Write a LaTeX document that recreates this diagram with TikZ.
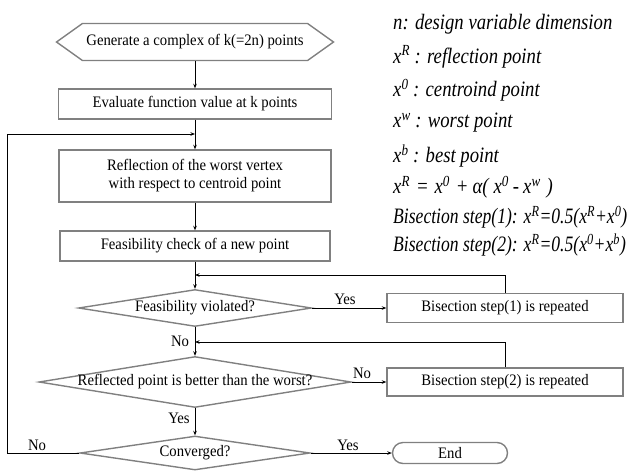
\documentclass[tikz,border=0pt]{standalone}
\usepackage{fontspec}
\setmainfont{Liberation Serif}[FakeStretch=0.92]
\newfontfamily\notefont{Liberation Serif}[FakeStretch=0.85]
\newfontfamily\tightfont{Liberation Serif}[FakeStretch=0.8]
\usetikzlibrary{shapes.geometric,shapes.misc,shapes.symbols,arrows.meta}
\newcommand{\xsup}[1]{x\textsuperscript{#1}}

\begin{document}
\begin{tikzpicture}[x=1pt,y=-1pt,
        font=\fontsize{16}{18}\selectfont,
        box/.style={draw=gray,line width=1.4pt,rectangle,inner sep=0pt,align=center},
        dec/.style={draw=gray,line width=1.4pt,diamond,inner sep=0pt},
        flow/.style={draw=black,line width=0.9pt,-{Stealth[length=4.5pt,width=3.5pt]}},
        note/.style={anchor=west,inner sep=0pt,font=\fontsize{22}{24}\notefont\itshape}]
                \useasboundingbox (0,0) rectangle (631,472);
                \node[draw=gray,line width=1.4pt,signal,signal to=west and east,signal pointer angle=71,
                      inner sep=0pt,minimum width=277pt,minimum height=37pt] (start) at (195,42) {\makebox[0pt]{Generate a complex of k(=2n) points}};
                \node[box,minimum width=273pt,minimum height=30pt] (eval) at (195,104) {Evaluate function value at k points};
                \node[box,minimum width=272pt,minimum height=52pt] (refl) at (195,176) {Reflection of the worst vertex\\with respect to centroid point};
                \node[box,minimum width=270pt,minimum height=30pt] (check) at (195,246) {Feasibility check of a new point};
                \node[dec,minimum width=233pt,minimum height=37pt] (viol) at (195,308) {\makebox[0pt]{Feasibility violated?}};
                \node[box,minimum width=236pt,minimum height=29pt] (bisA) at (505,308) {Bisection step(1) is repeated};
                \node[dec,minimum width=312pt,minimum height=51pt] (better) at (195,382) {\makebox[0pt]{Reflected point is better than the worst?}};
                \node[box,minimum width=236pt,minimum height=28pt] (bisB) at (505,382) {Bisection step(2) is repeated};
                \node[dec,minimum width=230pt,minimum height=34pt] (conv) at (195,453) {\makebox[0pt]{Converged?}};
                \node[draw=gray,line width=1.4pt,rounded rectangle,inner sep=0pt,minimum width=115pt,minimum height=21pt] (fin) at (450,453) {End};
                \node (yesA) at (345,299) {Yes};
                \node (noA) at (180,341) {No};
                \node (noB) at (362,373) {No};
                \node (yesB) at (179,418) {Yes};
                \node (yesC) at (348,445) {Yes};
                \node (noC) at (37,445) {No};
                \node[note] (nDim) at (393,24) {n: design variable dimension};
                \node[note] (xR) at (393,57) {\xsup{R} : reflection point};
                \node[note] (xO) at (393,90) {\xsup{0} : centroind point};
                \node[note] (xW) at (393,123) {\xsup{w} : worst point};
                \node[note] (xB) at (393,156) {\xsup{b} : best point};
                \node[note] (refEq) at (393,187) {\xsup{R}\hspace{6pt}=\hspace{6pt}\xsup{0}\hspace{6pt}+\hspace{4pt}α(\hspace{5pt}\xsup{0}\hspace{4pt}-\hspace{4pt}\xsup{w}\hspace{6pt})};
                \node[note,font=\fontsize{22}{24}\tightfont\itshape] (bisEqA) at (393,217) {Bisection step(1): \xsup{R}=0.5(\xsup{R}+\xsup{0})};
                \node[note,font=\fontsize{22}{24}\tightfont\itshape] (bisEqB) at (393,245) {Bisection step(2): \xsup{R}=0.5(\xsup{0}+\xsup{b})};
                \coordinate (jA) at (195,134);
                \coordinate (jB) at (195,275);
                \coordinate (jC) at (195,342);
                \coordinate (lc) at (7,453);
                \draw[flow] (start) -- (eval);
                \draw[flow] (eval) -- (refl);
                \draw[flow] (refl) -- (check);
                \draw[flow] (check) -- (viol);
                \draw[flow] (viol) -- (bisA);
                \draw[flow] (bisA.north) |- (jB);
                \draw[flow] (viol) -- (better);
                \draw[flow] (better) -- (bisB);
                \draw[flow] (bisB.north) |- (jC);
                \draw[flow] (better) -- (conv);
                \draw[flow] (conv) -- (fin);
                \draw[flow] (conv.west) -- (lc) |- (jA);
            \end{tikzpicture}
\end{document}
